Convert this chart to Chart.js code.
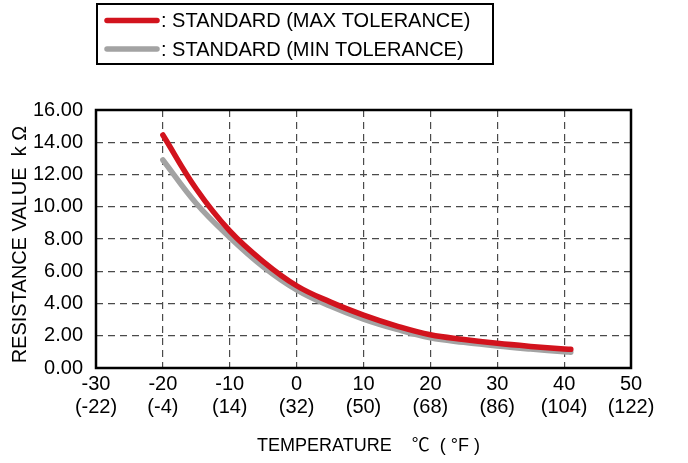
<!DOCTYPE html>
<html>
<head>
<meta charset="utf-8">
<script src="https://cdn.jsdelivr.net/npm/chart.js@4/dist/chart.umd.min.js"></script>
<style>
  html, body { margin: 0; padding: 0; background: #fff; }
  #wrap { width: 688px; height: 463px; position: relative; }
</style>
</head>
<body>
<div id="wrap"><canvas id="c" width="688" height="463"></canvas></div>
<script>
// ---- data ----
const temperatures = [-20, -15, -10, -5, 0, 5, 10, 15, 20, 25, 30, 35, 40, 41];
const maxTolerance = [14.45, 11.1, 8.5, 6.6, 5.1, 4.1, 3.28, 2.6, 2.06, 1.77, 1.53, 1.34, 1.18, 1.16];
const minTolerance = [12.9, 10.2, 8.1, 6.28, 4.85, 3.84, 3.03, 2.39, 1.87, 1.59, 1.36, 1.17, 1.0, 0.98];
const celsiusTicks = [-30, -20, -10, 0, 10, 20, 30, 40, 50];
const fahrenheitTicks = ['(-22)', '(-4)', '(14)', '(32)', '(50)', '(68)', '(86)', '(104)', '(122)'];
const seriesNames = [': STANDARD (MAX TOLERANCE)', ': STANDARD (MIN TOLERANCE)'];
const seriesColors = ['#d2131d', '#a3a3a3'];
const NB = '\u00A0';
const xTitle = NB + NB + 'TEMPERATURE' + NB.repeat(4) + '\u2103' + NB.repeat(2) + '(' + NB + '\u00B0F' + NB + ')';
const yTitle = 'RESISTANCE VALUE' + NB + NB + 'k' + NB + '\u03A9' + NB + NB;

const FONT = "'Liberation Sans', Arial, 'DejaVu Sans', sans-serif";
const TITLE_FONT = "'Liberation Sans', Arial, 'Noto Sans CJK JP', sans-serif";

const toPts = (ys) => temperatures.map((t, i) => ({ x: t, y: ys[i] }));

const framePlugin = {
  id: 'frame',
  beforeDatasetsDraw(chart) {
    const { ctx, chartArea: a } = chart;
    ctx.save();
    ctx.strokeStyle = '#000';
    ctx.lineWidth = 2.5;
    ctx.setLineDash([]);
    ctx.strokeRect(a.left, a.top, a.right - a.left, a.bottom - a.top);
    ctx.restore();
  }
};

const legendPlugin = {
  id: 'boxLegend',
  afterDraw(chart) {
    const ctx = chart.ctx;
    ctx.save();
    ctx.strokeStyle = '#000';
    ctx.lineWidth = 2;
    ctx.strokeRect(97, 4, 396, 60);
    const rows = [20.5, 49];
    ctx.font = '20px ' + FONT;
    ctx.textBaseline = 'middle';
    ctx.fillStyle = '#000';
    rows.forEach((y, i) => {
      ctx.strokeStyle = seriesColors[i];
      ctx.lineWidth = 5.5;
      ctx.lineCap = 'round';
      ctx.beginPath();
      ctx.moveTo(107, y);
      ctx.lineTo(157, y);
      ctx.stroke();
      ctx.fillText(seriesNames[i], 161, y + 1);
    });
    ctx.restore();
  }
};

new Chart(document.getElementById('c'), {
  type: 'line',
  data: {
    datasets: [
      { label: seriesNames[0], data: toPts(maxTolerance), borderColor: seriesColors[0],
        borderWidth: 5.5, pointRadius: 0, tension: 0.4,
        borderCapStyle: 'round', borderJoinStyle: 'round', fill: false },
      { label: seriesNames[1], data: toPts(minTolerance), borderColor: seriesColors[1],
        borderWidth: 5.5, pointRadius: 0, tension: 0.4,
        borderCapStyle: 'round', borderJoinStyle: 'round', fill: false }
    ]
  },
  options: {
    responsive: false,
    animation: false,
    events: [],
    layout: { padding: { top: 110, right: 57, left: 0, bottom: 0 } },
    plugins: { legend: { display: false }, tooltip: { enabled: false }, title: { display: false } },
    scales: {
      x: {
        type: 'linear', min: -30, max: 50,
        afterBuildTicks(s) { s.ticks = celsiusTicks.map(v => ({ value: v })); },
        afterFit(s) { s.height = 95; },
        grid: { color: '#4a4a4a', lineWidth: 1.2, drawTicks: false },
        border: { display: false, dash: [7, 5] },
        ticks: {
          padding: 5, color: '#000', maxRotation: 0, autoSkip: false,
          font: { family: FONT, size: 20, lineHeight: 1.15 },
          callback(v) { const i = celsiusTicks.indexOf(v); return [String(v), fahrenheitTicks[i]]; }
        },
        title: { display: true, text: xTitle, color: '#000',
          font: { family: TITLE_FONT, size: 18, lineHeight: 1.2 }, padding: { top: 0, bottom: 6 } }
      },
      y: {
        min: 0, max: 16,
        afterFit(s) { s.width = 96; },
        grid: { color: '#4a4a4a', lineWidth: 1.2, drawTicks: false },
        border: { display: false, dash: [7, 5] },
        ticks: {
          stepSize: 2, padding: 13, color: '#000',
          font: { family: FONT, size: 20 },
          callback(v) { return v.toFixed(2); }
        },
        title: { display: true, text: yTitle, color: '#000',
          font: { family: FONT, size: 20, lineHeight: 1.2 }, padding: { top: 8, bottom: 0 } }
      }
    }
  },
  plugins: [framePlugin, legendPlugin]
});
</script>
</body>
</html>
